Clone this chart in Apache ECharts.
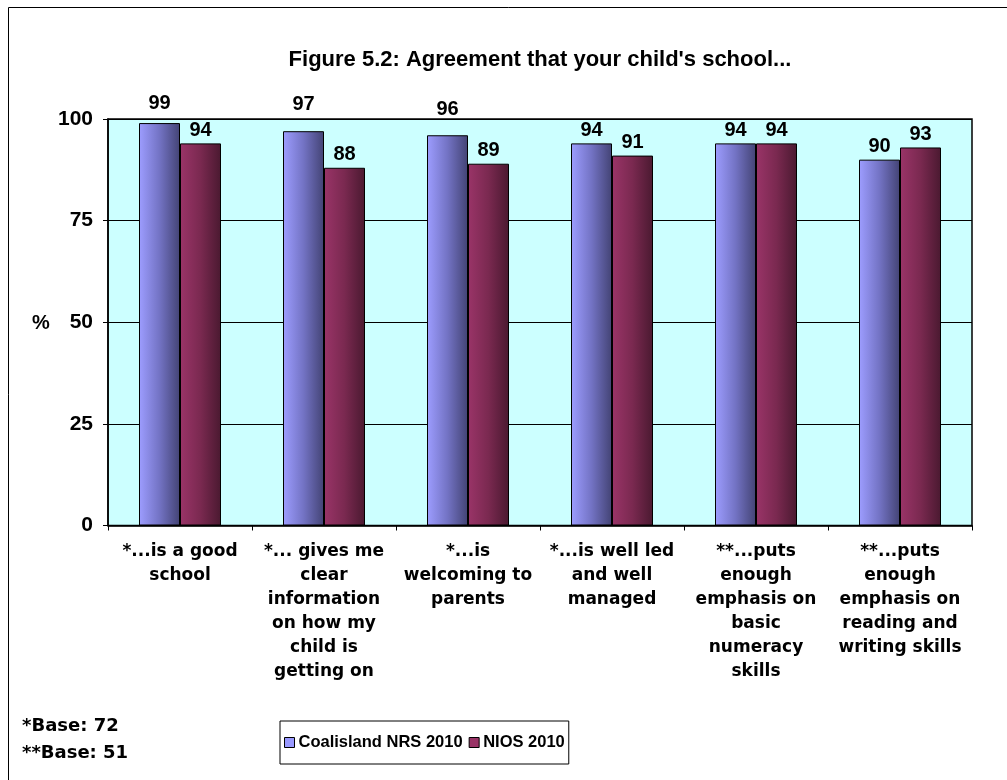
<!DOCTYPE html>
<html>
<head>
<meta charset="utf-8">
<script src="https://cdn.jsdelivr.net/npm/echarts@6/dist/echarts.min.js"></script>
<style>
html,body{margin:0;padding:0;background:#fff;}
#chart{width:1007px;height:780px;}
</style>
</head>
<body>
<div id="chart"></div>
<script>
const titleText = "Figure 5.2: Agreement that your child's school...";
const categories = [
  "*...is a good\nschool",
  "*... gives me\nclear\ninformation\non how my\nchild is\ngetting on",
  "*...is\nwelcoming to\nparents",
  "*...is well led\nand well\nmanaged",
  "**...puts\nenough\nemphasis on\nbasic\nnumeracy\nskills",
  "**...puts\nenough\nemphasis on\nreading and\nwriting skills"
];
const seriesNames = ["Coalisland NRS 2010", "NIOS 2010"];
const coalisland = [99, 97, 96, 94, 94, 90];
const nios = [94, 88, 89, 91, 94, 93];
const yTicks = [0, 25, 50, 75, 100];
const yAxisName = "%";
const baseNotes = ["*Base: 72", "**Base: 51"];

const FONT = "'Liberation Sans', Arial, sans-serif";
const WIDE = "'DejaVu Sans', Verdana, sans-serif";

// extra label lift (style only) for the Coalisland labels, as in the original
const blueLabelLift = [7, 14, 13, 0, 0, 0];

const blueGrad = new echarts.graphic.LinearGradient(0, 0, 1, 0, [
  {offset: 0, color: '#9D9DFF'},
  {offset: 0.5, color: '#7373C4'},
  {offset: 1, color: '#434374'}
]);
const redGrad = new echarts.graphic.LinearGradient(0, 0, 1, 0, [
  {offset: 0, color: '#9A3468'},
  {offset: 0.5, color: '#7A2950'},
  {offset: 1, color: '#4A1930'}
]);

const chart = echarts.init(document.getElementById('chart'), null, {renderer: 'canvas'});

const valueLabel = {
  show: true, position: 'top', distance: 3,
  color: '#000', fontFamily: FONT, fontWeight: 'bold', fontSize: 20
};

chart.setOption({
  animation: false,
  backgroundColor: '#fff',
  graphic: [
    {type: 'rect', shape: {x: 8.5, y: 7.5, width: 1100, height: 900},
     style: {fill: 'none', stroke: '#000', lineWidth: 1}, silent: true, z: -10},
    {type: 'text', x: 540, y: 60,
     style: {text: titleText, fill: '#000', font: "bold 22px " + FONT, textAlign: 'center', textVerticalAlign: 'middle'}},
    {type: 'text', x: 41, y: 323,
     style: {text: yAxisName, fill: '#000', font: "bold 20px " + FONT, textAlign: 'center', textVerticalAlign: 'middle'}},
    {type: 'text', x: 22, y: 726,
     style: {text: baseNotes[0], fill: '#000', font: "bold 18px " + WIDE, textAlign: 'left', textVerticalAlign: 'middle'}},
    {type: 'text', x: 22, y: 753,
     style: {text: baseNotes[1], fill: '#000', font: "bold 18px " + WIDE, textAlign: 'left', textVerticalAlign: 'middle'}}
  ],
  legend: {
    left: 280, top: 721,
    orient: 'horizontal',
    padding: [13, 4, 13, 4],
    borderColor: '#000', borderWidth: 1,
    backgroundColor: '#fff',
    itemWidth: 10, itemHeight: 10, itemGap: 6,
    icon: 'rect',
    textStyle: {color: '#000', fontFamily: FONT, fontWeight: 'bold', fontSize: 16.5, padding: [0, 0, 0, -1]},
    data: [
      {name: seriesNames[0], itemStyle: {color: '#9999FF', borderColor: '#000', borderWidth: 1}},
      {name: seriesNames[1], itemStyle: {color: '#993366', borderColor: '#000', borderWidth: 1}}
    ]
  },
  grid: {
    left: 108, right: 35, top: 119, bottom: 254.5,
    show: true, backgroundColor: '#CCFFFF', borderColor: '#000', borderWidth: 1.5,
    containLabel: false
  },
  xAxis: {
    type: 'category',
    data: categories,
    axisLine: {show: true, lineStyle: {color: '#000', width: 1.5}},
    axisTick: {show: true, length: 5, lineStyle: {color: '#000', width: 1}},
    axisLabel: {
      interval: 0, margin: 14, color: '#000',
      fontFamily: WIDE, fontWeight: 'bold', fontSize: 17, lineHeight: 24, align: 'center'
    },
    splitLine: {show: false}
  },
  yAxis: {
    type: 'value',
    min: yTicks[0], max: yTicks[yTicks.length - 1], interval: yTicks[1] - yTicks[0],
    axisLine: {show: true, lineStyle: {color: '#000', width: 1.5}},
    axisTick: {show: true, length: 5, lineStyle: {color: '#000', width: 1}},
    axisLabel: {margin: 15, color: '#000', fontFamily: FONT, fontWeight: 'bold', fontSize: 21},
    splitLine: {show: true, lineStyle: {color: '#000', width: 1}}
  },
  series: [
    {
      name: seriesNames[0], type: 'bar', barWidth: 41, barGap: '0%',
      itemStyle: {color: blueGrad, borderColor: '#000', borderWidth: 1},
      label: valueLabel,
      data: coalisland.map((v, i) => ({value: v, label: {distance: 3 + blueLabelLift[i]}}))
    },
    {
      name: seriesNames[1], type: 'bar', barWidth: 41, barGap: '0%',
      itemStyle: {color: redGrad, borderColor: '#000', borderWidth: 1},
      label: valueLabel,
      data: nios
    }
  ]
});
</script>
</body>
</html>
